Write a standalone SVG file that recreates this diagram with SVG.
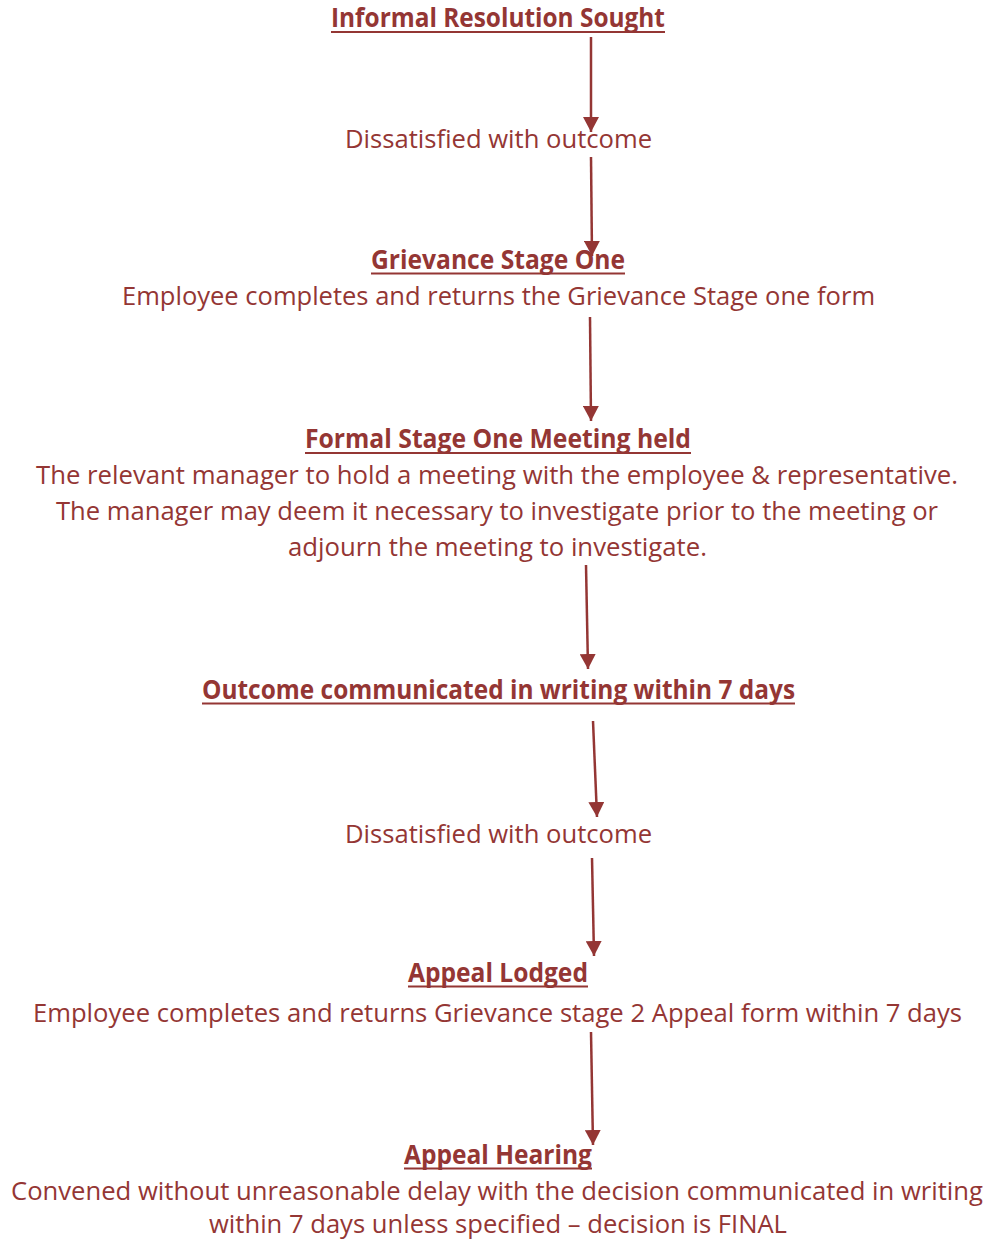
<svg xmlns="http://www.w3.org/2000/svg" width="992" height="1240" viewBox="0 0 992 1240">
  <style>
    text { font-family: "Open Sans", "Liberation Sans", sans-serif; font-size: 26px; fill: #943634; }
    .head { font-weight: bold; }
    .ul { stroke: #943634; stroke-width: 2.2; }
    .conn { stroke: #943634; stroke-width: 2.5; fill: none; marker-end: url(#arrow); }
  </style>
  <defs>
    <marker id="arrow" viewBox="0 0 15 16" refX="15" refY="8" markerWidth="15" markerHeight="16" markerUnits="userSpaceOnUse" orient="auto">
      <path d="M0,0 L15,8 L0,16 z" fill="#943634"/>
    </marker>
  </defs>
  <rect width="992" height="1240" fill="#ffffff"/>

  <g id="connectors">
    <path class="conn" d="M591,37 L591,132"/>
    <path class="conn" d="M591,157 L592,256"/>
    <path class="conn" d="M590,317 L591,421"/>
    <path class="conn" d="M586,565 L588,669"/>
    <path class="conn" d="M593,721 L597,817"/>
    <path class="conn" d="M592,858 L594,956"/>
    <path class="conn" d="M591,1032 L593,1145"/>
  </g>

  <!-- each line: translate to its left edge / baseline, condensed horizontally by 0.88 -->
  <g id="informal-resolution">
    <text class="head" transform="translate(331,27) scale(0.88,1)" textLength="379.5" lengthAdjust="spacingAndGlyphs">Informal Resolution Sought</text>
    <line class="ul" x1="331" y1="32" x2="665" y2="32"/>
  </g>

  <g id="dissatisfied-1">
    <text transform="translate(345,148) scale(0.88,1)" textLength="348.9" lengthAdjust="spacingAndGlyphs">Dissatisfied with outcome</text>
  </g>

  <g id="grievance-stage-one">
    <text class="head" transform="translate(371,269) scale(0.88,1)" textLength="288.6" lengthAdjust="spacingAndGlyphs">Grievance Stage One</text>
    <line class="ul" x1="371" y1="273.5" x2="625" y2="273.5"/>
    <text transform="translate(122,305) scale(0.88,1)" textLength="855.7" lengthAdjust="spacingAndGlyphs">Employee completes and returns the Grievance Stage one form</text>
  </g>

  <g id="formal-meeting">
    <text class="head" transform="translate(305,448) scale(0.88,1)" textLength="438.6" lengthAdjust="spacingAndGlyphs">Formal Stage One Meeting held</text>
    <line class="ul" x1="305" y1="453" x2="691" y2="453"/>
    <text transform="translate(36,484) scale(0.88,1)" textLength="1047.7" lengthAdjust="spacingAndGlyphs">The relevant manager to hold a meeting with the employee &amp; representative.</text>
    <text transform="translate(56,520) scale(0.88,1)" textLength="1002.3" lengthAdjust="spacingAndGlyphs">The manager may deem it necessary to investigate prior to the meeting or</text>
    <text transform="translate(288,556) scale(0.88,1)" textLength="476.1" lengthAdjust="spacingAndGlyphs">adjourn the meeting to investigate.</text>
  </g>

  <g id="outcome-communicated">
    <text class="head" transform="translate(202,699) scale(0.88,1)" textLength="673.9" lengthAdjust="spacingAndGlyphs">Outcome communicated in writing within 7 days</text>
    <line class="ul" x1="202" y1="703.5" x2="795" y2="703.5"/>
  </g>

  <g id="dissatisfied-2">
    <text transform="translate(345,843) scale(0.88,1)" textLength="348.9" lengthAdjust="spacingAndGlyphs">Dissatisfied with outcome</text>
  </g>

  <g id="appeal-lodged">
    <text class="head" transform="translate(408,982) scale(0.88,1)" textLength="204.5" lengthAdjust="spacingAndGlyphs">Appeal Lodged</text>
    <line class="ul" x1="408" y1="986.5" x2="588" y2="986.5"/>
    <text transform="translate(33,1022) scale(0.88,1)" textLength="1055.7" lengthAdjust="spacingAndGlyphs">Employee completes and returns Grievance stage 2 Appeal form within 7 days</text>
  </g>

  <g id="appeal-hearing">
    <text class="head" transform="translate(404,1164) scale(0.88,1)" textLength="213.6" lengthAdjust="spacingAndGlyphs">Appeal Hearing</text>
    <line class="ul" x1="404" y1="1168.5" x2="592" y2="1168.5"/>
    <text transform="translate(11,1200) scale(0.88,1)" textLength="1104.5" lengthAdjust="spacingAndGlyphs">Convened without unreasonable delay with the decision communicated in writing</text>
    <text transform="translate(209,1233) scale(0.88,1)" textLength="656.8" lengthAdjust="spacingAndGlyphs">within 7 days unless specified – decision is FINAL</text>
  </g>
</svg>
